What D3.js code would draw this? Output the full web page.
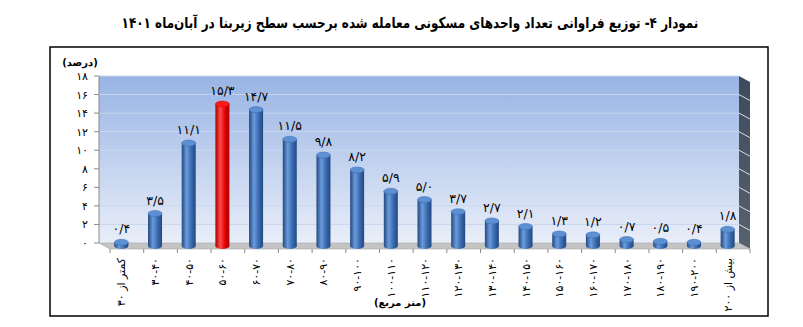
<!DOCTYPE html>
<html>
<head>
<meta charset="utf-8">
<script src="https://cdn.jsdelivr.net/npm/d3@7"></script>
<style>
  body { margin: 0; background: #fff; }
  svg { display: block; font-family: "DejaVu Sans", sans-serif; }
</style>
</head>
<body>
<div id="chart"></div>
<script>
// area classes (square metres), left to right as drawn
const categories = ["کمتر از ۳۰", "۳۰-۴۰", "۴۰-۵۰", "۵۰-۶۰", "۶۰-۷۰", "۷۰-۸۰", "۸۰-۹۰",
    "۹۰-۱۰۰", "۱۰۰-۱۱۰", "۱۱۰-۱۲۰", "۱۲۰-۱۳۰", "۱۳۰-۱۴۰", "۱۴۰-۱۵۰", "۱۵۰-۱۶۰",
    "۱۶۰-۱۷۰", "۱۷۰-۱۸۰", "۱۸۰-۱۹۰", "۱۹۰-۲۰۰", "بیش از ۲۰۰"];
const values = [0.4, 3.5, 11.1, 15.3, 14.7, 11.5, 9.8, 8.2, 5.9, 5.0, 3.7, 2.7, 2.1, 1.3, 1.2, 0.7, 0.5, 0.4, 1.8];
const valueLabels = ["۰/۴", "۳/۵", "۱۱/۱", "۱۵/۳", "۱۴/۷", "۱۱/۵", "۹/۸", "۸/۲", "۵/۹", "۵/۰",
    "۳/۷", "۲/۷", "۲/۱", "۱/۳", "۱/۲", "۰/۷", "۰/۵", "۰/۴", "۱/۸"];
const yTicks = [0, 2, 4, 6, 8, 10, 12, 14, 16, 18];
const yTickLabels = ["۰", "۲", "۴", "۶", "۸", "۱۰", "۱۲", "۱۴", "۱۶", "۱۸"];
const highlight = "۵۰-۶۰";

const title = "نمودار ۴- توزیع فراوانی تعداد واحدهای مسکونی معامله شده برحسب سطح زیربنا در آبان‌ماه ۱۴۰۱";

const width = 803, height = 327;
const wall = {left: 99, right: 739, top: 76, bottom: 243};
const depth = {dx: 11, dy: 6};   // 3d offset of the floor front edge

const svg = d3.select('#chart')
    .append('svg')
    .attr('width', width)
    .attr('height', height);

const defs = svg.append('defs');

const wallGrad = defs.append('linearGradient')
    .attr('id', 'wallGrad').attr('x1', 0).attr('y1', 0).attr('x2', 0).attr('y2', 1);
wallGrad.append('stop').attr('offset', '0%').attr('stop-color', '#98b4e4');
wallGrad.append('stop').attr('offset', '100%').attr('stop-color', '#e9eef9');

const sideGrad = defs.append('linearGradient')
    .attr('id', 'sideGrad').attr('x1', 0).attr('y1', 0).attr('x2', 0).attr('y2', 1);
sideGrad.append('stop').attr('offset', '0%').attr('stop-color', '#3e4a5c');
sideGrad.append('stop').attr('offset', '100%').attr('stop-color', '#58616e');

function cylinderGrad(id, dark, mid, light) {
    const g = defs.append('linearGradient')
        .attr('id', id).attr('x1', 0).attr('y1', 0).attr('x2', 1).attr('y2', 0);
    g.append('stop').attr('offset', '0%').attr('stop-color', dark);
    g.append('stop').attr('offset', '35%').attr('stop-color', light);
    g.append('stop').attr('offset', '70%').attr('stop-color', mid);
    g.append('stop').attr('offset', '100%').attr('stop-color', dark);
}
cylinderGrad('blueBar', '#23487f', '#3868ad', '#6a9bdc');
cylinderGrad('redBar', '#a80000', '#e00000', '#ff4a4a');

const x = d3.scaleBand()
    .domain(categories)
    .range([wall.left, wall.right]);

const y = d3.scaleLinear()
    .domain([0, 18])
    .range([wall.bottom, wall.top]);

// outer frame
svg.append('rect')
    .attr('x', 50).attr('y', 47)
    .attr('width', 718).attr('height', 269)
    .attr('fill', 'none')
    .attr('stroke', '#000')
    .attr('stroke-width', 1.5);

// title (condensed, like the bold naskh face of the original)
svg.append('text')
    .attr('transform', 'translate(410,28) scale(0.8,1)')
    .attr('text-anchor', 'middle')
    .attr('direction', 'rtl')
    .attr('font-size', 15)
    .attr('font-weight', 'bold')
    .text(title);

// back wall
svg.append('rect')
    .attr('x', wall.left).attr('y', wall.top)
    .attr('width', wall.right - wall.left)
    .attr('height', wall.bottom - wall.top)
    .attr('fill', 'url(#wallGrad)');

// gridlines on back wall
svg.selectAll('line.grid')
    .data(yTicks.slice(1)).enter()
    .append('line')
    .attr('class', 'grid')
    .attr('x1', wall.left).attr('x2', wall.right)
    .attr('y1', d => y(d)).attr('y2', d => y(d))
    .attr('stroke', '#c9d6ec')
    .attr('stroke-width', 1);

// right side wall
svg.append('path')
    .attr('d', d3.line()([
        [wall.right, wall.top], [wall.right + depth.dx, wall.top + depth.dy],
        [wall.right + depth.dx, wall.bottom + depth.dy], [wall.right, wall.bottom]]))
    .attr('fill', 'url(#sideGrad)');

svg.selectAll('line.sidegrid')
    .data(yTicks.slice(1, -1)).enter()
    .append('line')
    .attr('class', 'sidegrid')
    .attr('x1', wall.right).attr('x2', wall.right + depth.dx)
    .attr('y1', d => y(d)).attr('y2', d => y(d) + depth.dy)
    .attr('stroke', '#d8dee8')
    .attr('stroke-width', 1);

// floor
svg.append('path')
    .attr('d', d3.line()([
        [wall.left, wall.bottom], [wall.right, wall.bottom],
        [wall.right + depth.dx, wall.bottom + depth.dy], [wall.left + depth.dx, wall.bottom + depth.dy]]) + 'Z')
    .attr('fill', '#c4c4c4')
    .attr('stroke', '#a8a8a8')
    .attr('stroke-width', 0.6);

// left axis line
svg.append('line')
    .attr('x1', wall.left).attr('x2', wall.left)
    .attr('y1', wall.top).attr('y2', wall.bottom)
    .attr('stroke', '#8a8a8a');

// y ticks and labels
svg.selectAll('line.ytick')
    .data(yTicks).enter()
    .append('line')
    .attr('class', 'ytick')
    .attr('x1', wall.left - 5).attr('x2', wall.left)
    .attr('y1', d => y(d)).attr('y2', d => y(d))
    .attr('stroke', '#8a8a8a');

svg.selectAll('text.ylabel')
    .data(yTicks).enter()
    .append('text')
    .attr('class', 'ylabel')
    .attr('x', 88)
    .attr('y', d => y(d) + 4)
    .attr('text-anchor', 'end')
    .attr('font-size', 11)
    .text((d, i) => yTickLabels[i]);

svg.append('text')
    .attr('x', 80).attr('y', 66)
    .attr('text-anchor', 'middle')
    .attr('direction', 'rtl')
    .attr('font-size', 10)
    .attr('font-weight', 'bold')
    .text('(درصد)');

// x ticks on floor front edge
const tickXs = categories.map(c => x(c)).concat([wall.right]);
svg.selectAll('line.xtick')
    .data(tickXs).enter()
    .append('line')
    .attr('class', 'xtick')
    .attr('x1', d => d + depth.dx).attr('x2', d => d + depth.dx)
    .attr('y1', wall.bottom + depth.dy).attr('y2', wall.bottom + depth.dy + 4)
    .attr('stroke', '#8a8a8a');

// cylinders
const bw = 14, ry = 3;
const bars = svg.selectAll('g.bar')
    .data(categories).enter()
    .append('g')
    .attr('class', 'bar');

const cx = c => x(c) + x.bandwidth() / 2 + depth.dx / 2;
const barBase = y(0) + depth.dy / 2;
const barTop = (c, i) => y(values[i]) + depth.dy / 2;

bars.append('ellipse')
    .attr('cx', cx).attr('cy', barBase)
    .attr('rx', bw / 2).attr('ry', ry)
    .attr('fill', c => c === highlight ? 'url(#redBar)' : 'url(#blueBar)');

bars.append('rect')
    .attr('x', c => cx(c) - bw / 2)
    .attr('y', barTop)
    .attr('width', bw)
    .attr('height', (c, i) => barBase - barTop(c, i))
    .attr('fill', c => c === highlight ? 'url(#redBar)' : 'url(#blueBar)');

bars.append('ellipse')
    .attr('cx', cx).attr('cy', barTop)
    .attr('rx', bw / 2).attr('ry', ry)
    .attr('fill', c => c === highlight ? '#ff1a1a' : '#5d8fd3')
    .attr('stroke', c => c === highlight ? '#d00000' : '#3a6bb0')
    .attr('stroke-width', 0.5);

// value labels
bars.append('text')
    .attr('x', cx)
    .attr('y', (c, i) => barTop(c, i) - 9)
    .attr('text-anchor', 'middle')
    .attr('font-size', 12.5)
    .text((c, i) => valueLabels[i]);

// category labels, rotated
svg.selectAll('text.xlabel')
    .data(categories).enter()
    .append('text')
    .attr('class', 'xlabel')
    .attr('transform', c => 'translate(' + (cx(c) + 4) + ',' + 258 + ') rotate(-90)')
    .attr('text-anchor', 'end')
    .attr('font-size', 11)
    .text(c => c);

svg.append('text')
    .attr('x', 400).attr('y', 306)
    .attr('text-anchor', 'middle')
    .attr('direction', 'rtl')
    .attr('font-size', 10)
    .attr('font-weight', 'bold')
    .text('(متر مربع)');
</script>
</body>
</html>
